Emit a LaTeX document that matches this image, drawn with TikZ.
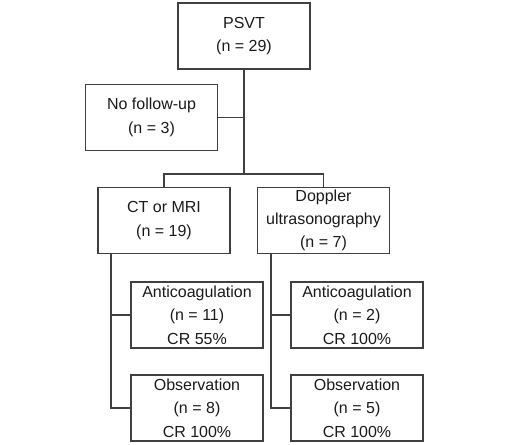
\documentclass[tikz,border=0pt]{standalone}
\usepackage{fontspec}
\setmainfont{Liberation Sans}
\definecolor{linegray}{HTML}{404040}
\definecolor{txt}{HTML}{1A1A1A}
\begin{document}
\begin{tikzpicture}[x=0.75pt,y=-0.75pt,
  box/.style={draw=linegray, line width=0.9pt, rectangle, inner sep=0pt,
    minimum width=99pt, minimum height=49.5pt, align=center, text=txt,
    font=\fontsize{12pt}{17.5pt}\selectfont},
  conn/.style={draw=linegray, line width=0.9pt}]
\useasboundingbox (0,0) rectangle (520,444);
\node[box] (psvt) at (244,36) {PSVT\\(n = 29)};
\node[box] (nf) at (151.5,117.5) {No follow-up\\(n = 3)};
\node[box] (ct) at (164,220.5) {CT or MRI\\(n = 19)};
\node[box] (dop) at (323.5,220.5) {Doppler\\ultrasonography\\(n = 7)};
\node[box] (a1) at (197,315) {Anticoagulation\\(n = 11)\\CR 55\%};
\node[box] (o1) at (197,408) {Observation\\(n = 8)\\CR 100\%};
\node[box] (a2) at (357,315) {Anticoagulation\\(n = 2)\\CR 100\%};
\node[box] (o2) at (357,408) {Observation\\(n = 5)\\CR 100\%};
\coordinate (j) at (244,174);
\coordinate (ctx) at (111,254);
\coordinate (dpx) at (271,254);
\draw[conn] (psvt.south) -- (j);
\draw[conn] (nf.east) -- (nf.east -| psvt.south);
\draw[conn] (ct.north) |- (j) -| (dop.north);
\draw[conn] (ct.south -| ctx) |- (a1.west);
\draw[conn] (ct.south -| ctx) |- (o1.west);
\draw[conn] (dop.south -| dpx) |- (a2.west);
\draw[conn] (dop.south -| dpx) |- (o2.west);
\end{tikzpicture}
\end{document}
